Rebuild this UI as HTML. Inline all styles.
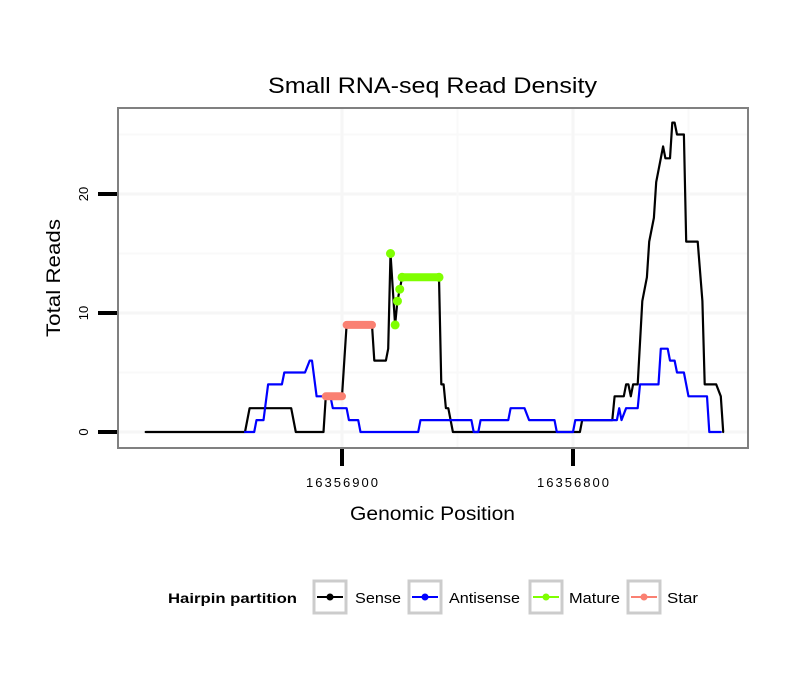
<!DOCTYPE html>
<html><head><meta charset="utf-8"><style>
body{margin:0;background:#fff;font-family:"Liberation Sans",sans-serif}
</style></head><body>
<svg id="c" width="810" height="690" xmlns="http://www.w3.org/2000/svg" font-family="Liberation Sans, sans-serif">
<rect width="810" height="690" fill="#fff"/>
<text x="268" y="93" font-size="22" textLength="329" lengthAdjust="spacingAndGlyphs">Small RNA-seq Read Density</text>
<g id="grid"></g>
<g id="series"></g>
<rect x="118" y="108" width="630" height="340" fill="none" stroke="#808080" stroke-width="2"/>
<g id="axes"></g>
<text x="350" y="520" font-size="19" textLength="165" lengthAdjust="spacingAndGlyphs">Genomic Position</text>
<text transform="translate(60,337) rotate(-90)" font-size="19" textLength="118" lengthAdjust="spacingAndGlyphs">Total Reads</text>
<g>
<text x="168" y="603" font-size="14" font-weight="bold" textLength="129" lengthAdjust="spacingAndGlyphs">Hairpin partition</text>
<g><rect x="314" y="581" width="32" height="32" fill="#fff" stroke="#ccc" stroke-width="3"/><line x1="317" y1="597" x2="343" y2="597" stroke="#000" stroke-width="2"/><circle cx="330" cy="597" r="3.5" fill="#000"/><text x="355" y="603" font-size="15" textLength="46" lengthAdjust="spacingAndGlyphs">Sense</text></g>
<g><rect x="409" y="581" width="32" height="32" fill="#fff" stroke="#ccc" stroke-width="3"/><line x1="412" y1="597" x2="438" y2="597" stroke="#0000ff" stroke-width="2"/><circle cx="425" cy="597" r="3.5" fill="#0000ff"/><text x="449" y="603" font-size="15" textLength="71" lengthAdjust="spacingAndGlyphs">Antisense</text></g>
<g><rect x="530" y="581" width="32" height="32" fill="#fff" stroke="#ccc" stroke-width="3"/><line x1="533" y1="597" x2="559" y2="597" stroke="#7fff00" stroke-width="2"/><circle cx="546" cy="597" r="3.5" fill="#7fff00"/><text x="569" y="603" font-size="15" textLength="51" lengthAdjust="spacingAndGlyphs">Mature</text></g>
<g><rect x="628" y="581" width="32" height="32" fill="#fff" stroke="#ccc" stroke-width="3"/><line x1="631" y1="597" x2="657" y2="597" stroke="#fa8072" stroke-width="2"/><circle cx="644" cy="597" r="3.5" fill="#fa8072"/><text x="667" y="603" font-size="15" textLength="31" lengthAdjust="spacingAndGlyphs">Star</text></g>
</g>
</svg>
<script>
const senseX=[16356985,16356942,16356940,16356922,16356920,16356908,16356907,16356900,16356898,16356887,16356886,16356881,16356880,16356879,16356877,16356876,16356875,16356874,16356858,16356857,16356856,16356855,16356854,16356852,16356797,16356796,16356783,16356782,16356778,16356777,16356776,16356775,16356774,16356772,16356770,16356768,16356767,16356765,16356764,16356762,16356761,16356760,16356758,16356757,16356756,16356755,16356752,16356751,16356746,16356744,16356743,16356738,16356736,16356735];
const senseY=[0,0,2,2,0,0,3,3,9,9,6,6,7,15,9,11,12,13,13,4,4,2,2,0,0,1,1,3,3,4,4,3,4,4,11,13,16,18,21,23,24,23,23,26,26,25,25,16,16,11,4,4,3,0];
const antiX=[16356942,16356938,16356937,16356934,16356932,16356926,16356925,16356916,16356914,16356913,16356911,16356905,16356904,16356898,16356897,16356893,16356892,16356867,16356866,16356844,16356843,16356841,16356840,16356828,16356827,16356821,16356819,16356808,16356807,16356800,16356799,16356781,16356780,16356779,16356777,16356772,16356771,16356763,16356762,16356759,16356758,16356756,16356755,16356752,16356750,16356742,16356741,16356736];
const antiY=[0,0,1,1,4,4,5,5,6,6,3,3,2,2,1,1,0,0,1,1,0,0,1,1,2,2,1,1,0,0,1,1,2,1,2,2,4,4,7,7,6,6,5,5,3,3,0,0];
const matureX=[16356879,16356877,16356876,16356875,16356874,16356858];
const matureY=[15,9,11,12,13,13];
const starX=[16356907,16356900,16356898,16356887];
const starY=[3,3,9,9];
const yTicks=[0,10,20];
const xTicks=[16356900,16356800];
const xTickLabels=["16356900","16356800"];

const NS="http://www.w3.org/2000/svg";
const sx=p=>342+(16356900-p)*2.31;
const sy=v=>432-v*11.9;
function mk(tag,attrs,parent){const e=document.createElementNS(NS,tag);for(const k in attrs)e.setAttribute(k,attrs[k]);parent.appendChild(e);return e;}
const grid=document.getElementById('grid'),ser=document.getElementById('series'),axes=document.getElementById('axes');
[5,15,25].forEach(v=>{const l=mk('line',{x1:119,x2:747,y1:sy(v),y2:sy(v),stroke:'#f9f9f9','stroke-width':2},grid);});
yTicks.forEach(v=>{const l=mk('line',{x1:119,x2:747,y1:sy(v),y2:sy(v),stroke:'#f6f6f6','stroke-width':3},grid);});
[16356850,16356750].forEach(p=>{const l=mk('line',{x1:sx(p),x2:sx(p),y1:109,y2:447,stroke:'#f9f9f9','stroke-width':2},grid);});
xTicks.forEach(p=>{const l=mk('line',{x1:sx(p),x2:sx(p),y1:109,y2:447,stroke:'#f6f6f6','stroke-width':3},grid);});
function path(xs,ys,color,w,name){const d=xs.map((x,i)=>(i?'L':'M')+sx(x).toFixed(1)+','+sy(ys[i]).toFixed(1)).join('');const p=mk('path',{d:d,fill:'none',stroke:color,'stroke-width':w,'stroke-linejoin':'round','stroke-linecap':'round'},ser);}
path(senseX,senseY,'#000',2.2,'sense-line');
path(antiX,antiY,'#0000ff',2.2,'antisense-line');
path(starX.slice(0,2),starY.slice(0,2),'#fa8072',8,'star-segment');
path(starX.slice(2),starY.slice(2),'#fa8072',8,'star-segment');
path(matureX.slice(4),matureY.slice(4),'#7fff00',8,'mature-segment');
matureX.forEach((x,i)=>{const c=mk('circle',{cx:sx(x),cy:sy(matureY[i]),r:4.5,fill:'#7fff00'},ser);});
yTicks.forEach(v=>{const l=mk('line',{x1:98,x2:117,y1:sy(v),y2:sy(v),stroke:'#000','stroke-width':4},axes);
const t=mk('text',{transform:`translate(88,${sy(v)}) rotate(-90)`,'text-anchor':'middle','font-size':13},axes);t.textContent=v;});
xTicks.forEach((p,i)=>{const l=mk('line',{x1:sx(p),x2:sx(p),y1:449,y2:466,stroke:'#000','stroke-width':4},axes);
const t=mk('text',{x:sx(p)-36,y:487,'font-size':13,textLength:72,lengthAdjust:'spacing'},axes);t.textContent=xTickLabels[i];});
</script>
</body></html>
